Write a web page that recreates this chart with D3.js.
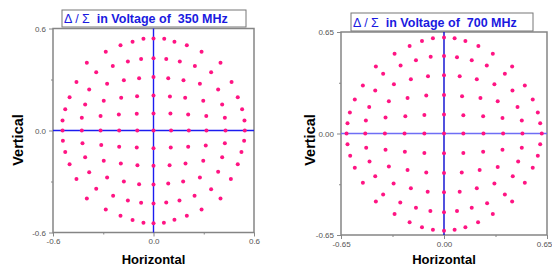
<!DOCTYPE html>
<html>
<head>
<meta charset="utf-8">
<script src="https://cdn.jsdelivr.net/npm/d3@7"></script>
<style>
  body { margin: 0; background: #fff; }
  svg { display: block; font-family: Arial, "Liberation Sans", sans-serif; }
  .tick text { fill: #555; font-size: 8px; }
  .tick line { stroke: #888; }
</style>
</head>
<body>
<svg width="552" height="267"></svg>
<script>
const SVG_WIDTH = 552;
const SVG_HEIGHT = 267;
const DOT_RADIUS = 2;
const DOT_COLOR = "#ff1483";

// 350 MHz panel, [horizontal, vertical], read row by row from top to bottom
const pts350 = [
  [-0.398, 0.398], [-0.285, 0.463], [-0.197, 0.502], [-0.125, 0.522], [-0.060, 0.539], [0, 0.541],
  [0.064, 0.539], [0.125, 0.522], [0.199, 0.502], [0.287, 0.463], [0.400, 0.398],
  [-0.460, 0.286], [-0.342, 0.343], [-0.243, 0.380], [-0.153, 0.406], [-0.074, 0.420], [0, 0.425],
  [0.076, 0.420], [0.157, 0.406], [0.247, 0.380], [0.344, 0.343], [0.466, 0.286],
  [-0.501, 0.196], [-0.384, 0.241], [-0.277, 0.275], [-0.177, 0.296], [-0.086, 0.308], [0, 0.314],
  [0.088, 0.308], [0.179, 0.296], [0.277, 0.275], [0.386, 0.241], [0.503, 0.196],
  [-0.527, 0.125], [-0.408, 0.153], [-0.297, 0.175], [-0.193, 0.192], [-0.098, 0.202], [0, 0.206],
  [0.098, 0.200], [0.189, 0.192], [0.297, 0.175], [0.410, 0.153], [0.529, 0.125],
  [-0.543, 0.059], [-0.428, 0.075], [-0.316, 0.086], [-0.207, 0.094], [-0.100, 0.098], [0, 0.100],
  [0.101, 0.100], [0.207, 0.094], [0.315, 0.086], [0.426, 0.075], [0.543, 0.059],
  [-0.543, 0], [-0.428, 0], [-0.316, 0], [-0.205, 0], [-0.097, 0], [0, 0],
  [0.105, 0], [0.211, 0], [0.316, 0], [0.430, 0], [0.545, 0],
  [-0.541, -0.061], [-0.424, -0.075], [-0.312, -0.086], [-0.205, -0.096], [-0.100, -0.100], [0, -0.104],
  [0.103, -0.100], [0.207, -0.096], [0.312, -0.088], [0.426, -0.075], [0.541, -0.061],
  [-0.527, -0.127], [-0.408, -0.157], [-0.297, -0.178], [-0.195, -0.194], [-0.096, -0.204], [0, -0.208],
  [0.096, -0.204], [0.191, -0.194], [0.297, -0.178], [0.410, -0.157], [0.525, -0.127],
  [-0.501, -0.198], [-0.384, -0.245], [-0.277, -0.276], [-0.177, -0.300], [-0.086, -0.316], [0, -0.318],
  [0.088, -0.312], [0.177, -0.300], [0.277, -0.276], [0.386, -0.243], [0.503, -0.198],
  [-0.460, -0.286], [-0.342, -0.343], [-0.241, -0.384], [-0.153, -0.412], [-0.074, -0.425], [0, -0.429],
  [0.076, -0.424], [0.155, -0.412], [0.245, -0.384], [0.344, -0.345], [0.462, -0.286],
  [-0.398, -0.400], [-0.285, -0.465], [-0.197, -0.502], [-0.125, -0.527], [-0.060, -0.543], [0, -0.545],
  [0.062, -0.543], [0.125, -0.525], [0.199, -0.502], [0.287, -0.465], [0.400, -0.400]
];

// 700 MHz panel
const pts700 = [
  [-0.430, 0.429], [-0.312, 0.510], [-0.217, 0.561], [-0.139, 0.593], [-0.070, 0.610], [0, 0.615],
  [0.067, 0.610], [0.135, 0.593], [0.217, 0.561], [0.308, 0.510], [0.430, 0.429],
  [-0.512, 0.307], [-0.384, 0.382], [-0.274, 0.435], [-0.177, 0.469], [-0.084, 0.491], [0, 0.497],
  [0.082, 0.489], [0.175, 0.469], [0.270, 0.435], [0.384, 0.382], [0.510, 0.307],
  [-0.563, 0.217], [-0.434, 0.275], [-0.316, 0.315], [-0.209, 0.347], [-0.101, 0.367], [0, 0.373],
  [0.099, 0.367], [0.207, 0.347], [0.318, 0.315], [0.432, 0.275], [0.560, 0.217],
  [-0.594, 0.134], [-0.472, 0.170], [-0.348, 0.206], [-0.230, 0.228], [-0.112, 0.243], [0, 0.247],
  [0.114, 0.238], [0.230, 0.228], [0.339, 0.206], [0.464, 0.170], [0.592, 0.134],
  [-0.609, 0.065], [-0.493, 0.084], [-0.369, 0.102], [-0.244, 0.110], [-0.124, 0.119], [0, 0.121],
  [0.122, 0.117], [0.247, 0.110], [0.369, 0.099], [0.491, 0.084], [0.607, 0.065],
  [-0.615, 0], [-0.497, 0], [-0.373, 0], [-0.249, 0], [-0.124, 0], [0, 0],
  [0.122, 0], [0.249, 0], [0.373, 0], [0.495, 0], [0.617, 0],
  [-0.609, -0.069], [-0.491, -0.091], [-0.369, -0.104], [-0.247, -0.117], [-0.124, -0.125], [0, -0.127],
  [0.122, -0.125], [0.247, -0.117], [0.369, -0.104], [0.491, -0.091], [0.607, -0.069],
  [-0.592, -0.142], [-0.470, -0.179], [-0.348, -0.211], [-0.230, -0.234], [-0.112, -0.249], [0, -0.253],
  [0.112, -0.249], [0.225, -0.234], [0.339, -0.215], [0.468, -0.179], [0.592, -0.142],
  [-0.563, -0.219], [-0.434, -0.273], [-0.318, -0.320], [-0.209, -0.350], [-0.103, -0.373], [0, -0.377],
  [0.099, -0.373], [0.207, -0.350], [0.318, -0.320], [0.434, -0.273], [0.560, -0.219],
  [-0.512, -0.315], [-0.384, -0.390], [-0.276, -0.442], [-0.177, -0.476], [-0.086, -0.497], [0, -0.504],
  [0.082, -0.497], [0.175, -0.476], [0.272, -0.446], [0.384, -0.390], [0.510, -0.315],
  [-0.430, -0.435], [-0.312, -0.516], [-0.217, -0.568], [-0.139, -0.600], [-0.070, -0.617], [0, -0.623],
  [0.067, -0.617], [0.135, -0.600], [0.215, -0.568], [0.308, -0.516], [0.430, -0.435]
];

const ticks350 = [-0.6, 0, 0.6];
const minor350 = [-0.3, 0.3];
const ticks700 = [-0.65, 0, 0.65];
const minor700 = [-0.325, 0.325];

const svg = d3.select("svg").attr("width", SVG_WIDTH).attr("height", SVG_HEIGHT);

function renderPanel(p) {
  const xScale = d3.scaleLinear().domain(p.domain).range([p.left, p.right]);
  const yScale = d3.scaleLinear().domain(p.domain).range([p.bottom, p.top]);
  const fmt = function(d) { return Math.abs(d) < 1e-9 ? (0).toFixed(p.digits) : d.toFixed(p.digits); };
  const g = svg.append("g");

  // Axes (ticks outside the frame)
  const xAxisArea = g.append("g").attr("transform", "translate(0," + p.bottom + ")");
  xAxisArea.call(d3.axisBottom(xScale).tickValues(p.ticks).tickFormat(fmt).tickSize(4).tickPadding(2));
  xAxisArea.append("g").call(d3.axisBottom(xScale).tickValues(p.minor).tickFormat("").tickSize(2));
  const yAxisArea = g.append("g").attr("transform", "translate(" + p.left + ",0)");
  yAxisArea.call(d3.axisLeft(yScale).tickValues(p.ticks).tickFormat(fmt).tickSize(4).tickPadding(3));
  yAxisArea.append("g").call(d3.axisLeft(yScale).tickValues(p.minor).tickFormat("").tickSize(2));
  g.selectAll(".domain").remove();

  // keep the last x label inside the window
  if (p.right > SVG_WIDTH - 10) {
    xAxisArea.selectAll(".tick text").filter(function(d) { return d === p.domain[1]; })
      .attr("dx", -(p.right + 8 - SVG_WIDTH) + "px");
  }

  // Frame
  g.append("rect")
    .attr("x", p.left).attr("y", p.top)
    .attr("width", p.right - p.left).attr("height", p.bottom - p.top)
    .attr("fill", "none").attr("stroke", "#858585").attr("stroke-width", 1.5);

  // Zero lines
  g.append("line")
    .attr("x1", p.left).attr("x2", p.right)
    .attr("y1", yScale(0)).attr("y2", yScale(0))
    .attr("stroke", p.hColor).attr("stroke-width", 1.6);
  g.append("line")
    .attr("x1", xScale(0)).attr("x2", xScale(0))
    .attr("y1", p.top).attr("y2", p.bottom)
    .attr("stroke", p.vColor).attr("stroke-width", 1.4);

  // Data points
  g.append("g").selectAll("circle")
    .data(p.data)
    .enter()
    .append("circle")
    .attr("cx", function(d) { return xScale(d[0]); })
    .attr("cy", function(d) { return yScale(d[1]); })
    .attr("r", DOT_RADIUS)
    .attr("fill", DOT_COLOR);

  // Title box
  g.append("rect")
    .attr("x", p.boxX).attr("y", p.boxY).attr("width", p.boxW).attr("height", p.boxH)
    .attr("fill", "#fff").attr("stroke", "#777").attr("stroke-width", 1);
  const title = g.append("text")
    .attr("x", p.boxX + 2).attr("y", p.boxY + p.boxH - 4)
    .attr("fill", "#1a1ae0").attr("font-size", 12.5).attr("font-weight", "bold")
    .attr("xml:space", "preserve");
  title.append("tspan").attr("font-weight", "normal").text("\u0394 / \u03a3 ");
  title.append("tspan").text(" in Voltage of  " + p.freq);

  // Axis titles
  g.append("text")
    .attr("x", (p.left + p.right) / 2).attr("y", 264)
    .attr("text-anchor", "middle").attr("font-size", 13).attr("font-weight", "bold")
    .text("Horizontal");
  g.append("text")
    .attr("transform", "translate(" + p.vLabelX + ",140) rotate(-90)")
    .attr("text-anchor", "middle").attr("font-size", 14.5).attr("font-weight", "bold")
    .text("Vertical");
}

renderPanel({
  data: pts350, domain: [-0.6, 0.6], ticks: ticks350, minor: minor350, digits: 1,
  left: 53, right: 254, top: 28.5, bottom: 232.5,
  hColor: "#1c1cf0", vColor: "#1c1cf0",
  boxX: 62, boxY: 10, boxW: 184, boxH: 17, freq: "350 MHz", vLabelX: 23
});

renderPanel({
  data: pts700, domain: [-0.65, 0.65], ticks: ticks700, minor: minor700, digits: 2,
  left: 341, right: 547, top: 32, bottom: 235,
  hColor: "#6e6ef5", vColor: "#0808d0",
  boxX: 351, boxY: 13, boxW: 182, boxH: 18, freq: "700 MHz", vLabelX: 315
});
</script>
</body>
</html>
